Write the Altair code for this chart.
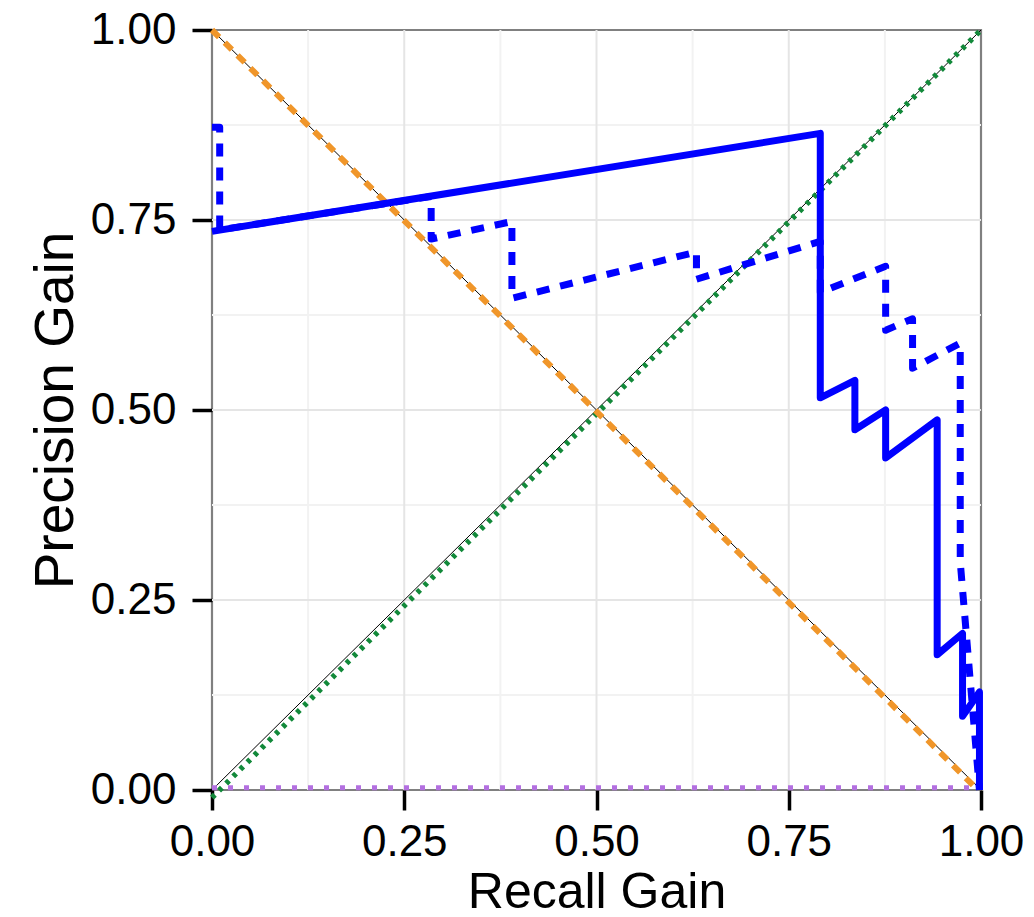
import altair as alt
import pandas as pd

# ---- data ----
solid_x = [0.0, 0.791, 0.791, 0.836, 0.836, 0.876, 0.876, 0.943, 0.943, 0.976, 0.976, 0.998, 0.998]
solid_y = [0.735, 0.864, 0.516, 0.539, 0.474, 0.500, 0.437, 0.487, 0.178, 0.206, 0.097, 0.129, 0.0]

dashed_x = [0.0, 0.010, 0.010, 0.285, 0.285, 0.390, 0.390, 0.630, 0.630, 0.791, 0.791,
            0.876, 0.876, 0.911, 0.911, 0.973, 0.973, 0.998]
dashed_y = [0.872, 0.872, 0.737, 0.781, 0.725, 0.748, 0.647, 0.708, 0.672, 0.722, 0.655,
            0.689, 0.605, 0.620, 0.555, 0.588, 0.300, 0.0]

green_x = [0.0, 1.0]
green_y = [-0.01, 1.0]
orange_x = [0.0, 0.996]
orange_y = [1.0, 0.0]
diag_up_x = [0.0, 1.0]
diag_up_y = [0.0, 1.0]
diag_down_x = [0.0, 1.0]
diag_down_y = [1.0, 0.0]
purple_x = [0.0, 1.0]
purple_y = [0.003, 0.003]

major_grid = [0.25, 0.5, 0.75]
minor_grid = [0.125, 0.375, 0.625, 0.875]
tick_values = [0.0, 0.25, 0.5, 0.75, 1.0]

FONT = "Liberation Sans"

def df(xs, ys):
    return pd.DataFrame({"x": xs, "y": ys, "i": list(range(len(xs)))})

xscale = alt.Scale(domain=[0, 1], nice=False, zero=False)
yscale = alt.Scale(domain=[0, 1], nice=False, zero=False)

xaxis = alt.Axis(values=tick_values, format=".2f", title="Recall Gain", grid=False, domain=False,
                 tickColor="black", tickWidth=3.5, tickSize=20, labelFontSize=44, labelColor="black",
                 labelFont=FONT, labelFlush=False, labelOverlap=False, labelBound=False,
                 labelBaseline="alphabetic", labelPadding=45,
                 titleFont=FONT, titleFontSize=50, titleFontWeight="normal", titleColor="black",
                 titleBaseline="alphabetic", titleX=384.5, titleY=117, titleAlign="center")
yaxis = alt.Axis(values=tick_values, format=".2f", title="Precision Gain", grid=False, domain=False,
                 tickColor="black", tickWidth=3.5, tickSize=20, labelFontSize=44, labelColor="black",
                 labelFont=FONT, labelFlush=False, labelOverlap=False, labelBound=False,
                 labelPadding=16, labelBaseline="middle",
                 titleFont=FONT, titleFontSize=55, titleFontWeight="normal", titleColor="black",
                 titleBaseline="alphabetic", titleX=-140, titleY=380, titleAlign="center", titleAngle=-90)

X = lambda f: alt.X(f, scale=xscale, axis=xaxis)
Y = lambda f: alt.Y(f, scale=yscale, axis=yaxis)

def line(data, color, width, dash=None, cap="butt", join="round"):
    kw = dict(color=color, strokeWidth=width, strokeCap=cap, strokeJoin=join, clip=False)
    if dash is not None:
        kw["strokeDash"] = dash
    return alt.Chart(data).mark_line(**kw).encode(x=X("x:Q"), y=Y("y:Q"), order="i:Q")

def vrules(vals, color, width):
    return alt.Chart(pd.DataFrame({"v": vals})).mark_rule(color=color, strokeWidth=width).encode(x=X("v:Q"))

def hrules(vals, color, width):
    return alt.Chart(pd.DataFrame({"v": vals})).mark_rule(color=color, strokeWidth=width).encode(y=Y("v:Q"))

layers = [
    vrules(minor_grid, "#F2F2F2", 2), hrules(minor_grid, "#F2F2F2", 2),
    vrules(major_grid, "#E5E5E5", 2), hrules(major_grid, "#E5E5E5", 2),
    line(df(diag_up_x, diag_up_y), "black", 1),
    line(df(diag_down_x, diag_down_y), "black", 1),
    line(df(green_x, green_y), "#12893A", 5.5, dash=[4, 6]),
    line(df(orange_x, orange_y), "#F0962A", 6, dash=[10, 8]),
    line(df(purple_x, purple_y), "#B370E0", 5, dash=[5, 11]),
    line(df(dashed_x, dashed_y), "#0000FF", 7, dash=[13, 11]),
    line(df(solid_x, solid_y), "#0000FF", 7),
]

chart = alt.layer(*layers).properties(
    width=769, height=760,
    autosize=alt.AutoSizeParams(type="none"),
    padding={"left": 212, "top": 30, "right": 53, "bottom": 127},
    background="white",
).configure_view(stroke="#808080", strokeWidth=2.2)

chart.save("out.html", embed_options={"renderer": "svg", "actions": False})
